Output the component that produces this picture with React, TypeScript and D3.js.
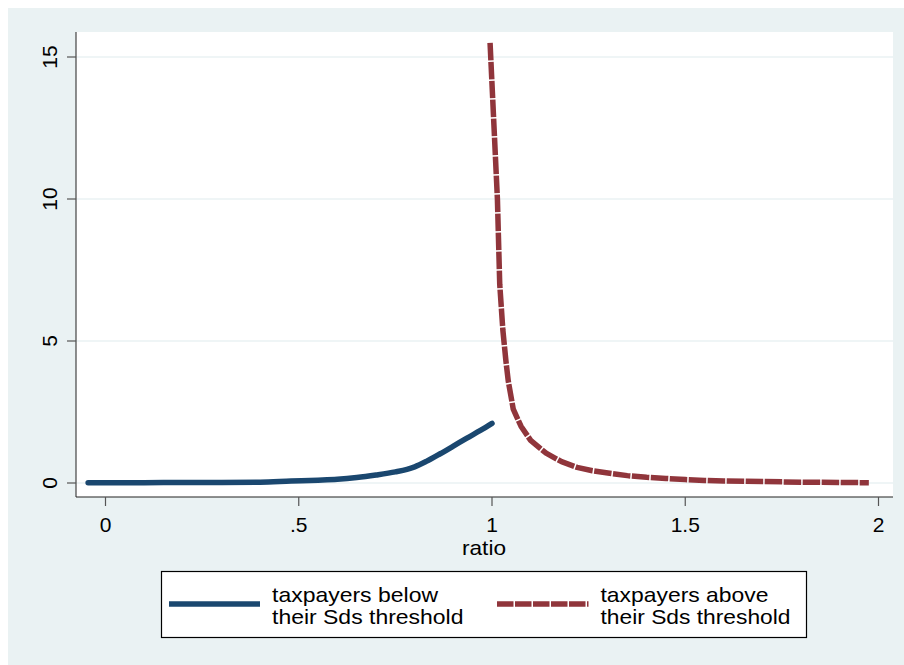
import React from "react";
import * as d3 from "d3";

const belowX = [-0.045, 0.1, 0.2, 0.3, 0.4, 0.48, 0.55, 0.6, 0.65, 0.7, 0.75, 0.78, 0.8, 0.83, 0.866, 0.9, 0.935, 0.97, 1.0];
const belowY = [0.01, 0.01, 0.02, 0.02, 0.03, 0.07, 0.1, 0.13, 0.19, 0.28, 0.39, 0.48, 0.57, 0.76, 1.03, 1.3, 1.58, 1.85, 2.1];

const aboveX = [0.995, 1.005, 1.014, 1.02, 1.028, 1.036, 1.042, 1.055, 1.075, 1.1, 1.14, 1.18, 1.22, 1.26, 1.3, 1.35, 1.4, 1.45, 1.5, 1.55, 1.6, 1.7, 1.8, 1.9, 1.975];
const aboveY = [15.5, 12.6, 10.0, 7.0, 5.4, 4.3, 3.6, 2.6, 2.0, 1.5, 1.05, 0.75, 0.55, 0.43, 0.35, 0.26, 0.2, 0.16, 0.12, 0.09, 0.07, 0.05, 0.03, 0.02, 0.01];

const xTicks = [0, 0.5, 1, 1.5, 2];
const xTickLabels = ["0", ".5", "1", "1.5", "2"];
const yTicks = [0, 5, 10, 15];
const yTickLabels = ["0", "5", "10", "15"];
const xTitle = "ratio";
const legendBelow = ["taxpayers below", "their Sds threshold"];
const legendAbove = ["taxpayers above", "their Sds threshold"];
const legendBelowWidths = [166, 191.5];
const legendAboveWidths = [168, 190];

const BG = "#EAF2F3";
const BLUE = "#1A476F";
const RED = "#90353B";
const FONT = "Arial, 'Liberation Sans', Helvetica, sans-serif";

export default function App() {
  const W = 904, H = 665;
  const pl = 76, pr = 893, pt = 32, pb = 497;
  const x = d3.scaleLinear().domain([0, 2]).range([105.5, 878.5]);
  const y = d3.scaleLinear().domain([0, 15]).range([483, 57]);

  const smooth = d3.line<[number, number]>().x(d => x(d[0])).y(d => y(d[1])).curve(d3.curveMonotoneX);
  const straight = d3.line<[number, number]>().x(d => x(d[0])).y(d => y(d[1])).curve(d3.curveLinear);
  const belowPts: [number, number][] = belowX.map((v, i) => [v, belowY[i]]);
  const abovePts: [number, number][] = aboveX.map((v, i) => [v, aboveY[i]]);

  return (
    <svg width={W} height={H} style={{ position: "absolute", left: 0, top: 0, display: "block" }} fontFamily={FONT}>
      <rect x={0} y={0} width={W} height={H} fill="#ffffff" />
      <rect x={8} y={8} width={W - 8} height={H - 8} fill={BG} />
      <rect x={pl} y={pt} width={pr - pl} height={pb - pt} fill="#ffffff" />
      {yTicks.map(t => (
        <line key={"g" + t} x1={pl} x2={pr} y1={y(t)} y2={y(t)} stroke={BG} strokeWidth={1.5} />
      ))}
      <line x1={pl} x2={pl} y1={pt} y2={pb} stroke="#444" strokeWidth={1.2} />
      <line x1={pl} x2={pr} y1={pb} y2={pb} stroke="#222" strokeWidth={1.2} />
      {yTicks.map((t, i) => (
        <g key={"yt" + t}>
          <line x1={pl - 9} x2={pl} y1={y(t)} y2={y(t)} stroke="#555" strokeWidth={1.2} />
          <text transform={`translate(57,${y(t)}) rotate(-90)`} textAnchor="middle" fontSize={21} fill="#000">
            {yTickLabels[i]}
          </text>
        </g>
      ))}
      {xTicks.map((t, i) => (
        <g key={"xt" + t}>
          <line x1={x(t)} x2={x(t)} y1={pb} y2={pb + 9} stroke="#555" strokeWidth={1.2} />
          <text x={x(t)} y={532} textAnchor="middle" fontSize={21} fill="#000">
            {xTickLabels[i]}
          </text>
        </g>
      ))}
      <text x={484} y={555} textAnchor="middle" fontSize={21} fill="#000" textLength={44} lengthAdjust="spacingAndGlyphs">{xTitle}</text>

      <path d={smooth(belowPts) || ""} fill="none" stroke={BLUE} strokeWidth={5.5} strokeLinejoin="round" strokeLinecap="round" />
      <path d={straight(abovePts) || ""} fill="none" stroke={RED} strokeWidth={5.5} strokeLinejoin="round" strokeDasharray="17.5 1.5" />

      <rect x={161.5} y={571.5} width={645} height={66} fill="#ffffff" stroke="#000" strokeWidth={1.2} />
      <line x1={169} x2={260} y1={604} y2={604} stroke={BLUE} strokeWidth={5.5} />
      <line x1={497} x2={588.5} y1={604} y2={604} stroke={RED} strokeWidth={5.5} strokeDasharray="16.5 1.5" />
      {legendBelow.map((s, i) => (
        <text key={"lb" + i} x={272} y={601.5 + i * 22.5} fontSize={21} fill="#000"
          textLength={legendBelowWidths[i]} lengthAdjust="spacingAndGlyphs">{s}</text>
      ))}
      {legendAbove.map((s, i) => (
        <text key={"la" + i} x={600.5} y={601.5 + i * 22.5} fontSize={21} fill="#000"
          textLength={legendAboveWidths[i]} lengthAdjust="spacingAndGlyphs">{s}</text>
      ))}
    </svg>
  );
}
